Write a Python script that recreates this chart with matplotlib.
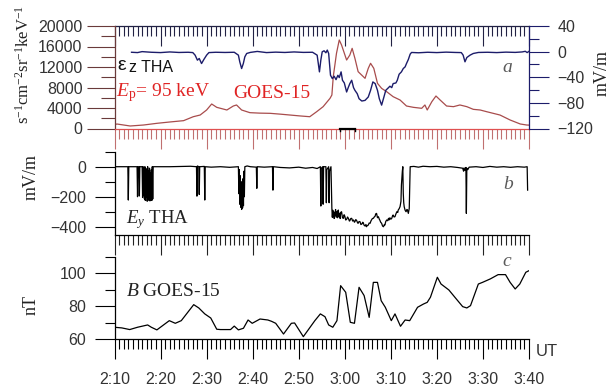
import matplotlib
matplotlib.use("Agg")
import matplotlib.pyplot as plt
from matplotlib.ticker import FixedLocator, MultipleLocator, NullFormatter

plt.rcParams["font.family"] = ["Liberation Sans", "DejaVu Sans"]
plt.rcParams["mathtext.fontset"] = "custom"
plt.rcParams["mathtext.rm"] = "Liberation Serif"
plt.rcParams["mathtext.it"] = "Liberation Serif:italic"
plt.rcParams["mathtext.bf"] = "Liberation Serif:bold"

# ---- time axis: minutes after 02:10 UT ----
time_ticks = [0, 10, 20, 30, 40, 50, 60, 70, 80, 90]
time_labels = ["2:10", "2:20", "2:30", "2:40", "2:50", "3:00", "3:10", "3:20", "3:30", "3:40"]

# ---- (a) GOES-15 proton flux, Ep = 95 keV ----
flux_t = [0, 0.5, 3.4, 6.3, 9.2, 12.0, 15.0, 17.1, 18.6, 20.0,
          21.1, 22.2, 24.4, 25.8, 26.5, 27.6, 29.4, 31.5, 33.8, 36.0,
          38.1, 40.3, 42.4, 43.9, 45.3, 46.8, 47.2, 47.5, 48.2, 48.8,
          49.3, 50.4, 51.1, 51.6, 52.2, 52.9, 54.4, 55.1, 55.6, 56.3,
          57.1, 58.0, 59.1, 60.5, 62.0, 63.4, 64.9, 66.7, 67.4, 67.9,
          68.9, 69.8, 70.7, 72.1, 73.6, 75.0, 76.5, 77.9, 79.4, 80.8,
          83.7, 85.9, 88.1, 89.5, 90.0]
flux = [700, 880, 490, 680, 1010, 1270, 1530, 2300, 2630, 3610,
        4780, 4130, 3610, 4390, 4590, 3610, 3090, 3000, 2960, 2800,
        2630, 2450, 2300, 3280, 4260, 5890, 6540, 10110, 14670, 17270,
        16290, 13360, 14340, 15640, 13690, 11090, 9790, 11740, 12720, 11740,
        8810, 7830, 7180, 6210, 5560, 4390, 4130, 3940, 4590, 3610,
        5230, 6340, 5560, 4390, 4260, 4590, 4260, 3740, 3610, 3280,
        2630, 1660, 880, 680, 660]

# ---- (a) THA electric field Ez, mV/m ----
ez_t = [3.7, 5.0, 6.0, 8.0, 10.0, 12.0, 14.0, 16.0, 17.0, 17.5,
        18.0, 18.4, 18.9, 19.4, 20.0, 20.5, 22.0, 24.0, 26.0, 26.9,
        27.2, 27.6, 27.97, 28.3, 28.7, 29.5, 31.0, 33.0, 35.0, 37.0,
        39.0, 41.0, 43.0, 44.0, 44.5, 44.8, 45.1, 45.5, 45.9, 46.2,
        46.5, 46.9, 47.3, 47.7, 48.1, 48.5, 48.8, 49.2, 49.5, 49.9,
        50.4, 50.8, 51.1, 51.5, 51.9, 52.2, 52.7, 53.1, 53.7, 54.4,
        55.1, 55.6, 56.1, 56.6, 57.1, 57.5, 58.0, 58.5, 58.9, 59.5,
        59.8, 60.2, 60.5, 61.1, 61.4, 61.8, 62.3, 62.7, 63.1, 63.4,
        63.8, 64.2, 64.5, 66.0, 68.0, 70.0, 72.0, 74.0, 75.3, 75.7,
        76.1, 76.5, 77.2, 77.9, 79.0, 81.0, 83.0, 85.0, 87.0, 88.5,
        89.2, 89.6, 90.0]
ez = [-1.0, -1.5, 0.0, -1.0, -1.5, -0.5, -1.3, -1.0, -1.5, -5.5,
      -13.3, -10.7, -18.6, -12.3, -5.5, -1.5, -1.0, -1.3, -1.0, -5.5,
      -15.9, -26.4, -18.6, -8.1, -2.9, -1.2, 0.3, -1.5, -0.8, -1.3,
      -0.5, -1.2, -1.0, -5.5, -31.6, -13.3, -0.3, 1.3, -1.8, 2.4,
      -2.9, -36.9, -42.1, -38.4, -43.7, -36.9, -40.5, -31.6, -44.7, -48.9,
      -63.0, -55.2, -49.9, -44.7, -56.2, -60.4, -65.6, -73.5, -77.1, -76.1,
      -70.8, -60.4, -47.3, -49.9, -60.4, -73.5, -83.5, -70.8, -60.4, -56.2,
      -54.0, -56.2, -49.9, -48.9, -44.7, -35.3, -31.6, -26.4, -23.8, -18.6,
      -12.3, -3.9, -1.3, -1.8, -1.0, -1.5, -0.8, -1.3, -1.5, -5.5,
      -15.9, -9.2, -5.5, -2.9, -1.3, -1.0, -1.5, -0.8, -1.2, -0.5,
      0.5, -1.5, 0.5]

# ---- (b) THA electric field Ey, mV/m ----
ey_t = [0.0, 1.5, 2.9, 3.0, 3.1, 4.9, 5.0, 5.1, 5.3, 5.4,
        5.5, 6.0, 6.1, 6.2, 6.3, 6.4, 6.5, 6.6, 6.7, 6.8,
        6.9, 7.0, 7.1, 7.2, 7.3, 7.4, 7.5, 7.6, 7.7, 7.8,
        7.9, 8.0, 8.1, 8.2, 8.3, 8.4, 9.0, 12.0, 15.0, 16.5,
        17.8, 17.9, 18.0, 18.3, 18.4, 18.5, 19.5, 19.6, 19.7, 21.0,
        23.0, 25.0, 26.9, 27.0, 27.1, 27.2, 27.3, 27.4, 27.5, 27.6,
        27.7, 27.8, 27.9, 28.0, 28.1, 28.2, 28.3, 28.8, 29.5, 30.8,
        30.9, 31.0, 32.5, 34.3, 34.4, 34.5, 36.0, 38.0, 40.0, 41.5,
        43.0, 44.0, 44.7, 44.8, 44.9, 45.2, 45.3, 45.4, 45.9, 46.0,
        46.1, 46.5, 46.6, 46.7, 47.0, 47.2, 47.3, 47.4, 47.5, 47.6,
        47.7, 47.8, 47.9, 48.0, 48.1, 48.2, 48.3, 48.4, 48.5, 48.6,
        48.7, 48.8, 48.9, 49.0, 49.1, 49.3, 49.5, 49.7, 49.85, 50.0,
        50.2, 50.4, 50.6, 50.8, 51.0, 51.1, 51.3, 51.5, 51.7, 51.9,
        52.1, 52.2, 52.4, 52.6, 52.8, 52.9, 53.1, 53.3, 53.5, 53.7,
        53.9, 54.0, 54.2, 54.4, 54.6, 54.7, 54.9, 55.1, 55.3, 55.5,
        55.7, 55.8, 56.0, 56.2, 56.4, 56.6, 56.7, 56.9, 57.1, 57.3,
        57.5, 57.6, 57.8, 58.0, 58.2, 58.4, 58.6, 58.7, 58.9, 59.1,
        59.3, 59.5, 59.6, 59.8, 60.0, 60.2, 60.4, 60.5, 60.7, 60.9,
        61.1, 61.3, 61.5, 61.6, 61.8, 62.0, 62.2, 62.3, 62.5, 62.6,
        62.7, 62.8, 62.9, 63.1, 63.3, 63.5, 63.6, 63.8, 64.0, 64.1,
        64.2, 65.0, 66.0, 67.0, 68.5, 70.0, 71.5, 73.0, 74.5, 75.6,
        75.8, 75.9, 76.1, 76.3, 76.4, 76.5, 76.7, 77.0, 78.5, 80.0,
        81.5, 83.0, 84.5, 86.0, 87.5, 89.0, 89.6, 89.7]
ey = [0, 0, 0, -222, 0, 0, -200, 0, 0, -195,
      0, 0, -205, 0, -190, -5, -215, 0, -225, -10,
      -200, -20, -230, 0, -215, -30, -225, -10, -228, -40,
      -210, -20, -225, 0, -215, 0, 0, 0, 2, 3,
      0, -196, 5, 0, -185, 0, 2, -222, 0, -3,
      0, -4, 0, -180, -20, -250, -60, -270, -100, -285,
      -120, -275, -80, -260, -30, -200, 0, 5, 0, -3,
      -144, 0, -3, 0, -156, 0, -5, -8, -3, -10,
      -5, -12, 0, -262, -10, 0, -250, 0, 0, -240,
      -20, 0, -240, -30, 0, -280, -337, -290, -330, -300,
      -345, -310, -322, -285, -335, -333, -300, -340, -295, -289,
      -335, -310, -322, -345, -305, -300, -340, -344, -320, -329,
      -355, -351, -335, -345, -362, -360, -345, -344, -362, -355,
      -370, -366, -352, -360, -375, -377, -365, -366, -385, -382,
      -370, -373, -390, -395, -385, -400, -392, -389, -375, -377,
      -360, -355, -345, -344, -335, -329, -315, -311, -340, -333,
      -350, -355, -370, -377, -395, -400, -385, -389, -365, -355,
      -360, -344, -355, -340, -350, -344, -325, -322, -335, -333,
      -315, -300, -305, -289, -280, -266, -230, -122, -30, 0,
      -177, -240, -266, -290, -300, -285, -289, -311, -277, -150,
      0, 2, -3, 3, 0, 2, -3, 0, -5, -10,
      -30, -8, -25, -5, -311, -10, -20, -3, 0, -5,
      2, -3, 0, -4, 0, -3, 0, -156]

# ---- (c) GOES-15 magnetic field B, nT ----
b_t = [0.0, 1.6, 3.3, 5.0, 7.2, 8.0, 9.2, 11.9, 13.2, 14.5,
       17.2, 18.3, 19.6, 20.9, 22.2, 23.0, 25.2, 26.0, 26.9, 28.0,
       29.0, 29.9, 31.6, 33.3, 34.1, 35.0, 36.7, 38.4, 39.1, 41.0,
       43.5, 44.7, 45.7, 46.5, 47.4, 48.3, 49.1, 50.2, 51.2, 52.1,
       53.1, 54.2, 55.3, 56.2, 57.1, 57.9, 58.8, 60.1, 60.9, 62.1,
       63.1, 64.1, 65.8, 67.1, 67.9, 68.6, 70.1, 70.9, 72.6, 73.9,
       75.6, 76.5, 77.3, 79.0, 79.9, 81.6, 83.3, 84.9, 85.9, 87.0,
       88.0, 89.3, 90.0]
b_nt = [67.3, 66.9, 65.9, 67.3, 68.7, 67.3, 65.7, 71.3, 69.7, 71.3,
        81.0, 79.0, 75.4, 72.9, 66.1, 65.9, 65.9, 68.0, 65.7, 66.7,
        71.7, 69.7, 72.3, 71.7, 70.9, 69.7, 63.2, 69.7, 69.9, 61.6,
        71.3, 75.4, 73.7, 68.7, 67.3, 71.3, 92.5, 88.5, 70.3, 69.7,
        91.5, 86.5, 73.3, 94.5, 94.5, 83.4, 79.4, 71.3, 75.4, 67.9,
        71.7, 71.3, 79.4, 81.4, 82.4, 85.5, 97.6, 93.5, 89.9, 85.5,
        79.8, 79.0, 80.4, 93.5, 94.5, 96.6, 99.2, 99.2, 94.5, 90.5,
        93.5, 100.6, 101.6]

# interval marked under panel (a)
marker_interval = [49.0, 52.2]

RED_LINE = "#a84c4c"
NAVY = "#1c1c6a"
TEXT_RED = "#e02424"
TICK_TXT = "#333333"
LETTER = "#5a5a5a"

W_PX, H_PX = 616, 392
fig = plt.figure(figsize=(W_PX / 100, H_PX / 100), dpi=100)


def box(left, top, right, bottom):
    return [left / W_PX, 1 - bottom / H_PX, (right - left) / W_PX, (bottom - top) / H_PX]


def ptext(x, y, s, **kw):
    fig.text(x / W_PX, 1 - y / H_PX, s, **kw)


ax_a = fig.add_axes(box(114.5, 26, 529, 128.5))
ax_b = fig.add_axes(box(114.5, 151.7, 529, 235))
ax_c = fig.add_axes(box(114.5, 256.8, 529, 339.3))

MAJ, MIN = 14.4, 7.2
for ax in (ax_a, ax_b, ax_c):
    ax.set_xlim(0, 90)
    ax.xaxis.set_major_locator(FixedLocator(time_ticks))
    ax.xaxis.set_minor_locator(MultipleLocator(1))
    ax.tick_params(axis="x", which="major", length=MAJ, width=0.8, direction="out")
    ax.tick_params(axis="x", which="minor", length=MIN, width=0.8, direction="out")
    ax.tick_params(axis="y", which="major", length=MAJ, width=0.8, direction="out",
                   labelsize=11.5, labelcolor=TICK_TXT, pad=6)
    ax.tick_params(axis="y", which="minor", length=MIN, width=0.8, direction="out")
    ax.patch.set_alpha(0)

# ---- panel (a) ----
ax_a.plot(flux_t, flux, color=RED_LINE, lw=0.9)
ax_a.set_ylim(0, 20000)
ax_a.yaxis.set_major_locator(MultipleLocator(4000))
ax_a.yaxis.set_minor_locator(MultipleLocator(2000))
ax_a.tick_params(axis="x", which="both", labelbottom=False, color="#c07070")
ax_a.tick_params(axis="y", which="both", color="#6a3a3a", pad=3)
ax_a.tick_params(axis="y", which="major", length=20)
ax_a.tick_params(axis="y", which="minor", length=10)
ax_a.spines["right"].set_visible(False)
ax_a.spines["top"].set_visible(False)
ax_a.spines["bottom"].set_color("#e05050")
ax_a.spines["left"].set_color("#6a3a3a")
for sp in ax_a.spines.values():
    sp.set_linewidth(0.9)

top = ax_a.secondary_xaxis("top")
top.xaxis.set_major_locator(FixedLocator(time_ticks))
top.xaxis.set_minor_locator(MultipleLocator(1))
top.xaxis.set_major_formatter(NullFormatter())
top.tick_params(which="major", direction="in", length=MAJ, width=0.8, color="#222244")
top.tick_params(which="minor", direction="in", length=MIN, width=0.8, color="#222244")
top.spines["top"].set_color("#222244")
top.spines["top"].set_linewidth(0.9)

ax_e = ax_a.twinx()
ax_e.plot(ez_t, ez, color=NAVY, lw=1.0)
ax_e.set_ylim(-120, 40)
ax_e.yaxis.set_major_locator(MultipleLocator(40))
ax_e.yaxis.set_minor_locator(MultipleLocator(20))
ax_e.tick_params(axis="y", which="major", length=MAJ, width=0.8, direction="out",
                 color=NAVY, labelsize=11.5, labelcolor=TICK_TXT, pad=6)
ax_e.tick_params(axis="y", which="minor", length=MIN, width=0.8, direction="out", color=NAVY)
for name in ("left", "top", "bottom"):
    ax_e.spines[name].set_visible(False)
ax_e.spines["right"].set_color(NAVY)
ax_e.spines["right"].set_linewidth(0.9)

ax_a.plot(marker_interval, [0, 0], color="black", lw=1.6, clip_on=False, zorder=5)
for xm in marker_interval:
    ax_a.plot([xm, xm], [0, -500], color="black", lw=1.0, clip_on=False, zorder=5)

# ---- panel (b) ----
ax_b.plot(ey_t, ey, color="black", lw=0.9)
ax_b.set_ylim(-455, 100)
ax_b.yaxis.set_major_locator(FixedLocator([-400, -200, 0]))
ax_b.yaxis.set_minor_locator(FixedLocator([-300, -100, 100]))
ax_b.tick_params(axis="x", which="both", labelbottom=False, color="#222222")
ax_b.spines["top"].set_visible(False)
ax_b.spines["right"].set_visible(False)
for sp in ax_b.spines.values():
    sp.set_linewidth(0.9)

# ---- panel (c) ----
ax_c.plot(b_t, b_nt, color="black", lw=0.9)
ax_c.set_ylim(60, 110)
ax_c.yaxis.set_major_locator(FixedLocator([60, 80, 100]))
ax_c.yaxis.set_minor_locator(FixedLocator([70, 90, 110]))
ax_c.set_xticklabels(time_labels)
ax_c.tick_params(axis="x", which="major", labelsize=11.5, labelcolor=TICK_TXT, pad=9)
ax_c.spines["top"].set_visible(False)
ax_c.spines["right"].set_visible(False)
for sp in ax_c.spines.values():
    sp.set_linewidth(0.9)

# ---- axis titles ----
serif = ["Liberation Serif", "DejaVu Serif"]
ptext(24, 64, r"s$^{-1}$cm$^{-2}$sr$^{-1}$keV$^{-1}$", family=serif, fontsize=12,
      rotation=90, ha="center", va="center", color="#222222")
ptext(602, 73, "mV/m", family=serif, fontsize=13, rotation=90, ha="center", va="center",
      color="#222222")
ptext(31, 177, "mV/m", family=serif, fontsize=13, rotation=90, ha="center", va="center",
      color="#222222")
ptext(31, 305, "nT", family=serif, fontsize=13, rotation=90, ha="center", va="center",
      color="#222222")
ptext(547, 352, "UT", fontsize=12, ha="center", va="center", color=TICK_TXT)

# ---- panel annotations ----
ptext(117, 65, "ε", fontsize=14, ha="left", va="center", color="#111111")
ptext(129, 67, "z THA", fontsize=11.5, ha="left", va="center", color="#111111")
ptext(116, 93, r"$E_\mathrm{p}$= 95 keV", family=serif, fontsize=14, ha="left", va="center",
      color=TEXT_RED)
ptext(233, 93, "GOES-15", family=serif, fontsize=14, ha="left", va="center", color=TEXT_RED)
ptext(507, 67, "a", family=serif, style="italic", fontsize=14, ha="center", va="center",
      color=LETTER)
ptext(126, 220, r"$E_y$ THA", family=serif, fontsize=13.5, ha="left", va="center",
      color="#222222")
ptext(508, 184, "b", family=serif, style="italic", fontsize=14, ha="center", va="center",
      color=LETTER)
ptext(126, 291, r"$B$ GOES-15", family=serif, fontsize=14, ha="left", va="center",
      color="#222222")
ptext(507, 261, "c", family=serif, style="italic", fontsize=14, ha="center", va="center",
      color=LETTER)

fig.savefig("out.png", dpi=100)
